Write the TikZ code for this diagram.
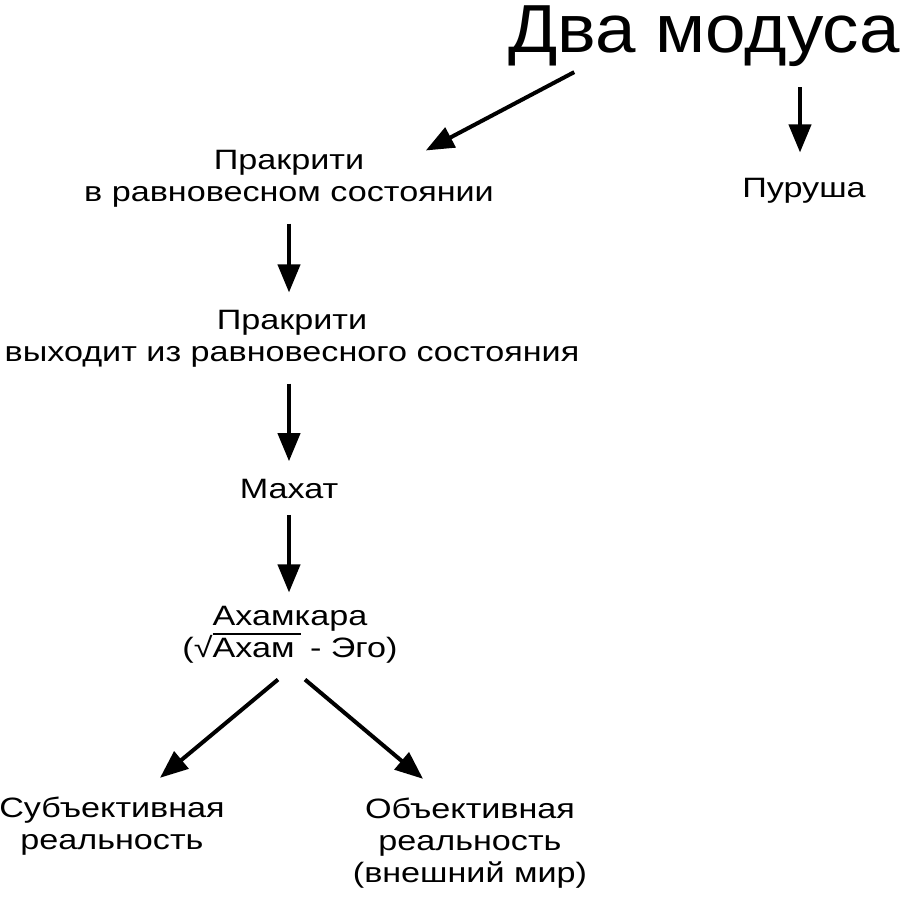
\documentclass[tikz,border=0pt]{standalone}
\usepackage{fontspec}
\setmainfont{Liberation Sans}
\newfontfamily\bodyfont[FakeStretch=1.22]{Liberation Sans}
\newfontfamily\titlefont[FakeStretch=1.07]{Liberation Sans}
\usetikzlibrary{arrows.meta,calc}

\begin{document}
\begin{tikzpicture}[x=0.5pt, y=-0.5pt, line width=2pt,
    arr/.style={-{Triangle[length=14pt,width=11pt]}},
    down/.style={arr, shorten <=7pt, shorten >=8pt},
    box/.style={align=center, inner sep=0pt, font=\bodyfont\fontsize{14}{16}\selectfont}]
  \useasboundingbox (0,0) rectangle (900,896);

  % 1. заголовок и узлы
  \node[inner sep=0pt, anchor=base, font=\titlefont\fontsize{34}{38}\selectfont] (title) at (704,52) {Два модуса};
  \node[box] (prakriti) at (289,179) {Пракрити\\в равновесном состоянии};
  \node[box] (purusha) at (804,191) {Пуруша};
  \node[box] (vyhodit) at (292,339) {Пракрити\\выходит из равновесного состояния};
  \node[box] (mahat) at (289,489) {Махат};
  \node[box] (ahamkara) at (290,635) {Ахамкара\\(√\vbox{\hrule height 1pt\kern1.5pt\hbox{Ахам\kern3pt}}\ - Эго)};
  \node[box] (subj) at (112,826) {Субъективная\\реальность};
  \node[box] (obj) at (470,843) {Объективная\\реальность\\(внешний мир)};

  % 2. стрелки
  \draw[arr] ($(title.south west)+(68,4)$) -- ($(prakriti.north east)+(-70,2)$);
  \draw[arr] ($(title.south)+(96,19)$) -- ($(purusha.north)+(-4,-24)$);
  \draw[down] (prakriti.south) -- (prakriti.south |- vyhodit.north);
  \draw[down] (prakriti.south |- vyhodit.south) -- (mahat.north);
  \draw[down, shorten >=6pt] (mahat.south) -- (mahat.south |- ahamkara.north);
  \draw[arr] ($(ahamkara.south)+(-12,14)$) -- ($(subj.north)+(48,-17)$);
  \draw[arr] ($(ahamkara.south)+(15,14)$) -- ($(obj.north)+(-47,-17)$);
\end{tikzpicture}
\end{document}
